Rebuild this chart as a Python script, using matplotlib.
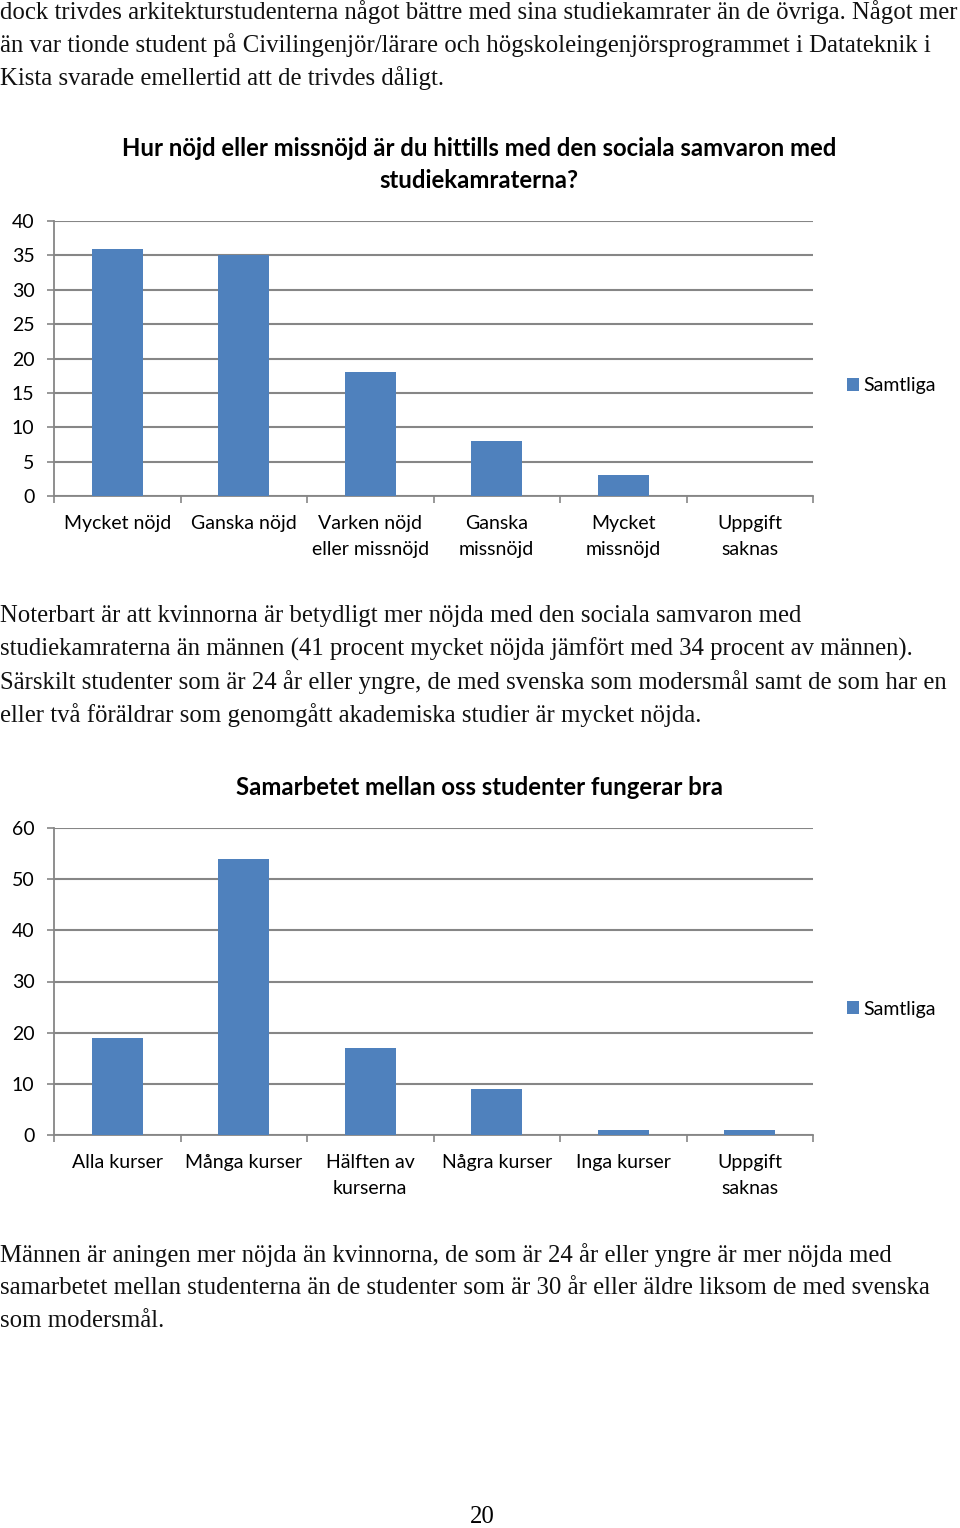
import matplotlib
matplotlib.use("Agg")
import matplotlib.pyplot as plt
import numpy as np

# ---- data ----
cats1 = ["Mycket nöjd", "Ganska nöjd", "Varken nöjd\neller missnöjd",
         "Ganska\nmissnöjd", "Mycket\nmissnöjd", "Uppgift\nsaknas"]
vals1 = [36, 35, 18, 8, 3, 0]
yticks1 = [0, 5, 10, 15, 20, 25, 30, 35, 40]
title1 = "Hur nöjd eller missnöjd är du hittills med den sociala samvaron med\nstudiekamraterna?"

cats2 = ["Alla kurser", "Många kurser", "Hälften av\nkurserna",
         "Några kurser", "Inga kurser", "Uppgift\nsaknas"]
vals2 = [19, 54, 17, 9, 1, 1]
yticks2 = [0, 10, 20, 30, 40, 50, 60]
title2 = "Samarbetet mellan oss studenter fungerar bra"

series_name = "Samtliga"

text_top = ["dock trivdes arkitekturstudenterna något bättre med sina studiekamrater än de övriga. Något mer",
            "än var tionde student på Civilingenjör/lärare och högskoleingenjörsprogrammet i Datateknik i",
            "Kista svarade emellertid att de trivdes dåligt."]
text_mid = ["Noterbart är att kvinnorna är betydligt mer nöjda med den sociala samvaron med",
            "studiekamraterna än männen (41 procent mycket nöjda jämfört med 34 procent av männen).",
            "Särskilt studenter som är 24 år eller yngre, de med svenska som modersmål samt de som har en",
            "eller två föräldrar som genomgått akademiska studier är mycket nöjda."]
text_bot = ["Männen är aningen mer nöjda än kvinnorna, de som är 24 år eller yngre är mer nöjda med",
            "samarbetet mellan studenterna än de studenter som är 30 år eller äldre liksom de med svenska",
            "som modersmål."]
page_no = "20"

# ---- style ----
W, H = 960, 1528
BAR = "#4F81BD"
GRID = "#868686"
SANS = ["Lato", "DejaVu Sans"]
SERIF = ["Liberation Serif", "DejaVu Serif"]
LBL = 14

fig = plt.figure(figsize=(W / 100, H / 100), dpi=100)
fig.patch.set_facecolor("white")


def fy(px):
    return 1 - px / H


def fx(px):
    return px / W


def chart(cats, vals, yticks, title, top_px, bottom_px, title_y, legend_y):
    left, right = 54, 813
    ax = fig.add_axes([fx(left), fy(bottom_px), fx(right - left), (bottom_px - top_px) / H])
    x = np.arange(len(cats))
    bars = ax.bar(x, vals, width=0.4, color=BAR, zorder=3, label=series_name)
    ax.set_xlim(-0.5, len(cats) - 0.5)
    ax.set_ylim(yticks[0], yticks[-1])
    ax.set_yticks(yticks)
    ax.set_yticklabels([str(t) for t in yticks], fontsize=LBL, family=SANS, color="black")
    ax.yaxis.grid(True, color=GRID, linewidth=1.5, zorder=0)
    ax.set_axisbelow(True)
    for s in ["top", "right"]:
        ax.spines[s].set_visible(False)
    for s in ["left", "bottom"]:
        ax.spines[s].set_color(GRID)
        ax.spines[s].set_linewidth(1.3)
    ax.tick_params(axis="y", length=5, width=1.2, color=GRID, pad=9)
    ax.set_xticks(x)
    ax.set_xticklabels(cats, fontsize=LBL, family=SANS, linespacing=1.6)
    ax.tick_params(axis="x", which="major", length=0, pad=14)
    ax.set_xticks(np.arange(len(cats) + 1) - 0.5, minor=True)
    ax.tick_params(axis="x", which="minor", length=5, width=1.2, color=GRID)
    fig.text(fx(479), fy(title_y), title, ha="center", va="top", fontsize=17.2,
             fontweight="bold", family=SANS, linespacing=1.5)
    fig.legend(handles=[bars], labels=[series_name], loc="center left",
               bbox_to_anchor=(fx(829), fy(legend_y)), frameon=False,
               handlelength=0.65, handleheight=0.65, handletextpad=0.2,
               prop={"family": SANS, "size": LBL})
    return ax


chart(cats1, vals1, yticks1, title1, 221, 496, 137, 386)
chart(cats2, vals2, yticks2, title2, 828, 1135, 776, 1009)


def para(lines, y0, step=33):
    for i, ln in enumerate(lines):
        fig.text(0.0, fy(y0 + i * step), ln, ha="left", va="center", fontsize=17.8,
                 family=SERIF, color="#111111")


para(text_top, 12)
para(text_mid, 616)
para(text_bot, 1255)
fig.text(fx(482), fy(1517), page_no, ha="center", va="center", fontsize=17.8, family=SERIF)

fig.savefig("out.png", dpi=100, facecolor="white")
